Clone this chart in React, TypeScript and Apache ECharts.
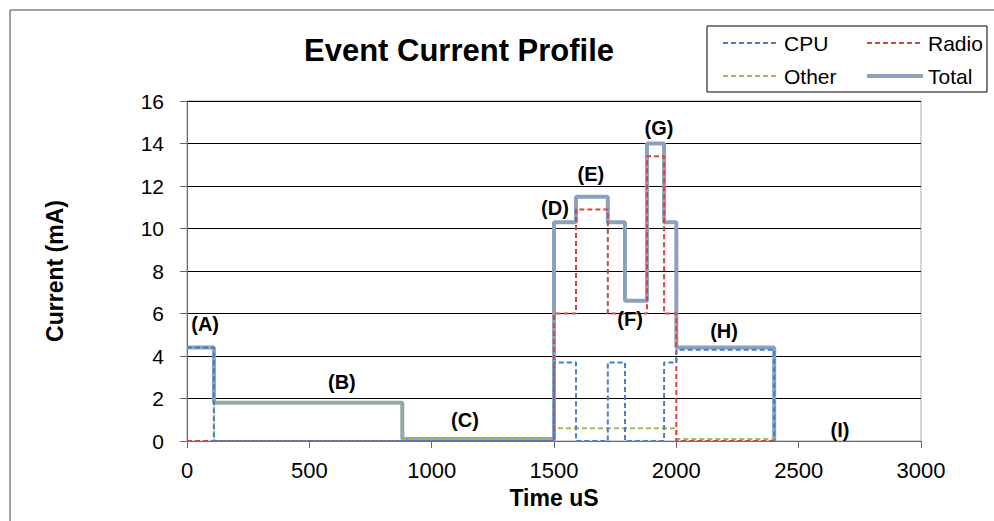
import React, { useEffect, useRef } from "react";
import * as echarts from "echarts";

const timePoints = [0, 110, 880, 1500, 1590, 1720, 1790, 1880, 1950, 2000, 2400];
const cpuValues = [4.4, 0, 0, 3.7, 0, 3.7, 0, 0, 3.7, 4.3, 0];
const radioValues = [0, 0, 0, 6, 10.9, 6, 6, 13.4, 6, 0, 0];
const otherValues = [0, 1.8, 0.1, 0.6, 0.6, 0.6, 0.6, 0.6, 0.6, 0.1, 0];
const totalValues = [4.4, 1.8, 0.1, 10.3, 11.5, 10.3, 6.6, 14, 10.3, 4.4, 0];

const noteNames = ["(A)", "(B)", "(C)", "(D)", "(E)", "(F)", "(G)", "(H)", "(I)"];
const noteTimes = [74, 633, 1136, 1504, 1651, 1811, 1929, 2195, 2669];
const noteLevels = [5.5, 2.78, 0.99, 10.96, 12.56, 5.74, 14.73, 5.18, 0.52];

const FONT = "Liberation Sans, Arial, sans-serif";

const pairs = (vals: number[]) => timePoints.map((t, i) => [t, vals[i]]);

export default function App() {
  const ref = useRef<HTMLDivElement>(null);
  useEffect(() => {
    if (!ref.current) return;
    const chart = echarts.init(ref.current, undefined, { renderer: "svg" });
    const dashed = (name: string, color: string, vals: number[]) => ({
      name,
      type: "line",
      step: "end",
      data: pairs(vals),
      showSymbol: false,
      symbol: "none",
      lineStyle: { color, width: 2, type: [5, 3] },
      itemStyle: { color },
      z: 3,
    });
    const legendCommon = {
      orient: "vertical",
      top: 32,
      padding: 0,
      itemWidth: 56,
      itemHeight: 14,
      itemGap: 11,
      itemStyle: { color: "transparent", borderWidth: 0 },
      textStyle: { fontFamily: FONT, fontSize: 21, lineHeight: 22, color: "#000" },
    };
    const dashItem = (name: string) => ({ name, lineStyle: { width: 2 } });
    chart.setOption({
      animation: false,
      backgroundColor: "#fff",
      textStyle: { fontFamily: FONT },
      title: {
        text: "Event Current Profile",
        left: 454,
        top: 30,
        textAlign: "center",
        textStyle: { fontFamily: FONT, fontSize: 31, fontWeight: "bold", color: "#000" },
      },
      legend: [
        { ...legendCommon, data: [dashItem("CPU"), dashItem("Other")], left: 722 },
        {
          ...legendCommon,
          data: [dashItem("Radio"), { name: "Total", lineStyle: { width: 4 } }],
          left: 865,
        },
      ],
      graphic: [
        {
          type: "rect",
          shape: { x: 10, y: 10, width: 1000, height: 530 },
          style: { fill: "none", stroke: "#444", lineWidth: 1 },
          silent: true,
        },
        {
          type: "rect",
          shape: { x: 707, y: 26, width: 280, height: 66 },
          style: { fill: "none", stroke: "#000", lineWidth: 1 },
          silent: true,
        },
      ],
      grid: {
        left: 187,
        right: 73,
        top: 101,
        bottom: 80,
        show: true,
        borderColor: "#aaa",
        borderWidth: 1,
      },
      xAxis: {
        type: "value",
        min: 0,
        max: 3000,
        interval: 500,
        name: "Time uS",
        nameLocation: "middle",
        nameGap: 45,
        nameTextStyle: { fontFamily: FONT, fontSize: 23, fontWeight: "bold", color: "#000" },
        axisLine: { show: true, lineStyle: { color: "#666", width: 1 } },
        axisTick: { show: true, inside: false, length: 7, lineStyle: { color: "#666" } },
        axisLabel: {
          fontFamily: FONT,
          fontSize: 22,
          color: "#000",
          margin: 18,
          formatter: (v: number) => String(v),
        },
        splitLine: { show: false },
      },
      yAxis: {
        type: "value",
        min: 0,
        max: 16,
        interval: 2,
        name: "Current (mA)",
        nameLocation: "middle",
        nameGap: 121,
        nameTextStyle: { fontFamily: FONT, fontSize: 23, fontWeight: "bold", color: "#000" },
        axisLine: { show: true, lineStyle: { color: "#666", width: 1 } },
        axisTick: { show: true, inside: false, length: 7, lineStyle: { color: "#666" } },
        axisLabel: {
          fontFamily: FONT,
          fontSize: 21,
          color: "#000",
          margin: 23,
          formatter: (v: number) => String(v),
        },
        splitLine: { show: true, lineStyle: { color: "#000", width: 1 } },
      },
      series: [
        {
          name: "Total",
          type: "line",
          step: "end",
          data: pairs(totalValues),
          showSymbol: false,
          symbol: "none",
          lineStyle: { color: "#8ca1bd", width: 4 },
          itemStyle: { color: "#8ca1bd" },
          z: 2,
        },
        dashed("Other", "#9bbb59", otherValues),
        dashed("Radio", "#d9423e", radioValues),
        dashed("CPU", "#3f7fcf", cpuValues),
        {
          name: "notes",
          type: "scatter",
          symbolSize: 0,
          itemStyle: { opacity: 1, color: "#000" },
          data: noteTimes.map((t, i) => ({ value: [t, noteLevels[i]], name: noteNames[i] })),
          label: {
            show: true,
            position: "inside",
            formatter: (p: any) => p.name,
            fontFamily: FONT,
            fontSize: 20,
            fontWeight: "bold",
            color: "#000",
            textBorderWidth: 0,
          },
          silent: true,
          z: 5,
        },
      ],
    });
    return () => chart.dispose();
  }, []);
  return <div ref={ref} style={{ position: "fixed", left: 0, top: 0, width: 994, height: 521 }} />;
}
